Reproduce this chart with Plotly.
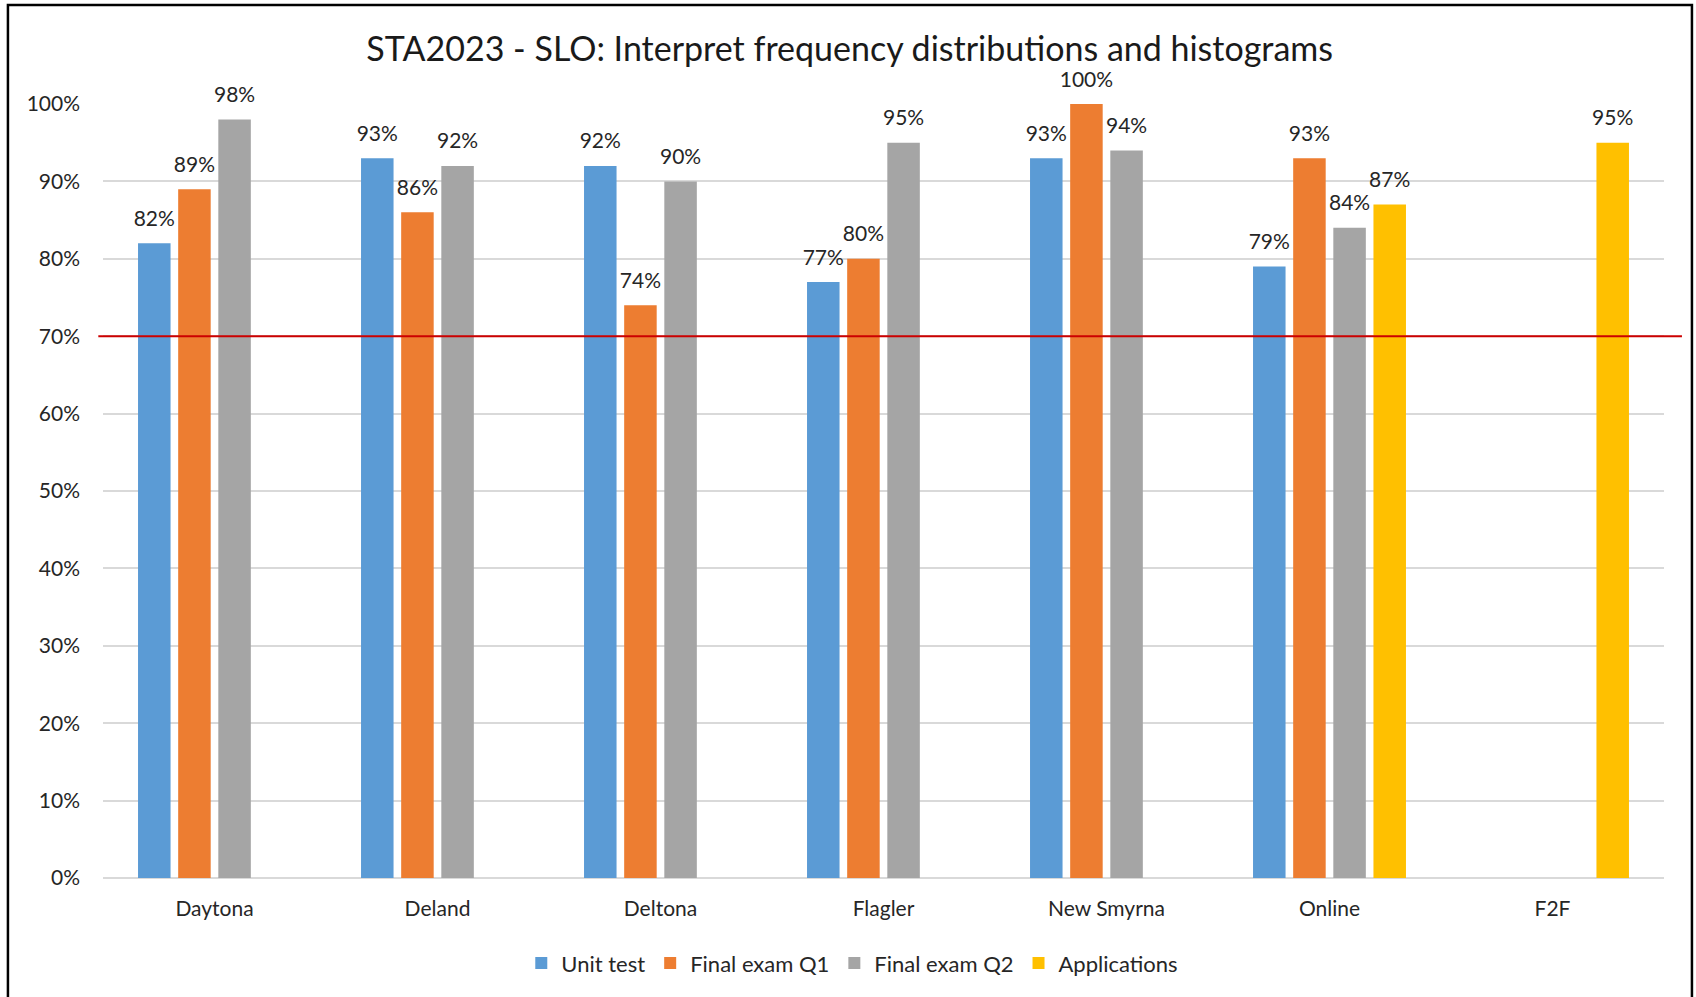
import plotly.graph_objects as go

campuses = ["Daytona", "Deland", "Deltona", "Flagler", "New Smyrna", "Online", "F2F"]

unit_test = [0.82, 0.93, 0.92, 0.77, 0.93, 0.79, None]
final_q1 = [0.89, 0.86, 0.74, 0.80, 1.00, 0.93, None]
final_q2 = [0.98, 0.92, 0.90, 0.95, 0.94, 0.84, None]
applications = [None, None, None, None, None, 0.87, 0.95]

target = 0.70

series = [
    ("Unit test", unit_test, "#5B9BD5"),
    ("Final exam Q1", final_q1, "#ED7D31"),
    ("Final exam Q2", final_q2, "#A5A5A5"),
    ("Applications", applications, "#FFC000"),
]

FONT = "Lato, 'Open Sans', sans-serif"
GAP = 0.28

fig = go.Figure()
for i, (name, vals, color) in enumerate(series):
    fig.add_bar(
        x=campuses, y=vals, name=name,
        marker=dict(color=color, line=dict(width=0)),
        offsetgroup=str(i),
    )
# data labels, lifted a bit above the bar tops (invisible markers give the offset)
for i, (name, vals, color) in enumerate(series):
    fig.add_scatter(
        x=campuses, y=vals, mode="markers+text",
        text=[f"{v:.0%}" if v is not None else "" for v in vals],
        textposition="top center",
        textfont=dict(size=21, color="#262626", family=FONT),
        marker=dict(size=18, opacity=0),
        offsetgroup=str(i), showlegend=False, hoverinfo="skip",
        cliponaxis=False,
    )

# 70% benchmark line
fig.add_shape(
    type="line", xref="paper", yref="y",
    x0=-0.003, x1=1.0115, y0=target, y1=target,
    line=dict(color="#CC0000", width=2),
)

# chart frame
fig.add_shape(
    type="rect", xref="paper", yref="paper",
    x0=-0.0609, x1=1.0179, y0=-0.16, y1=1.128,
    line=dict(color="black", width=2.5),
    layer="above",
)

fig.update_layout(
    width=1696, height=997,
    margin=dict(l=103, r=32, t=104, b=119),
    paper_bgcolor="white", plot_bgcolor="white",
    font=dict(family=FONT, size=21, color="#262626"),
    title=dict(
        text="STA2023 - SLO: Interpret frequency distributions and histograms",
        x=0.501, xanchor="center", y=0.951, yanchor="middle",
        font=dict(size=34, color="#1a1a1a", family=FONT),
    ),
    barmode="group", bargap=GAP, bargroupgap=0.19,
    scattermode="group", scattergap=GAP,
    showlegend=True,
    legend=dict(
        orientation="h", x=0.48, xanchor="center", y=-0.11, yanchor="middle",
        font=dict(size=22), itemwidth=30, traceorder="normal",
    ),
    xaxis=dict(
        showgrid=False, showline=False, ticks="",
        ticklabelstandoff=16, tickfont=dict(size=21),
    ),
    yaxis=dict(
        range=[0, 1], dtick=0.1, tickformat=".0%",
        showgrid=True, gridcolor="#D9D9D9", gridwidth=1.5,
        zeroline=True, zerolinecolor="#D9D9D9", zerolinewidth=1.5,
        showline=False, ticks="", ticklabelstandoff=22,
        tickfont=dict(size=21),
    ),
)

fig.write_html(
    "out.html",
    config={"displayModeBar": False},
    post_script="document.body.style.margin='0px';",
)
